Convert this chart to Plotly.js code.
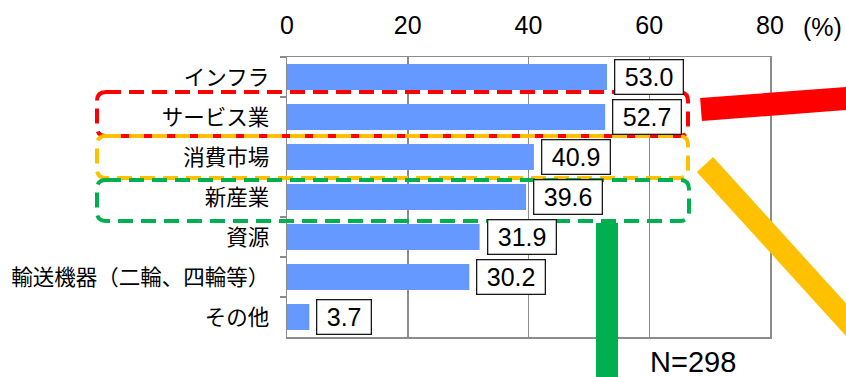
<!DOCTYPE html>
<html>
<head>
<meta charset="utf-8">
<script src="https://cdn.plot.ly/plotly-3.0.1.min.js"></script>
<style>
html,body{margin:0;padding:0;background:#fff;}
#chart{width:846px;height:377px;}
</style>
</head>
<body>
<div id="chart"></div>
<script>
// ---- data ----
const categories = ["インフラ", "サービス業", "消費市場", "新産業", "資源", "輸送機器（二輪、四輪等）", "その他"];
const values = [53.0, 52.7, 40.9, 39.6, 31.9, 30.2, 3.7];
const xTickValues = [0, 20, 40, 60, 80];
const unitLabel = "(%)";
const sampleLabel = "N=298";

// ---- layout helpers (pixel -> paper) ----
const W = 846, H = 377;
const M = {l: 287, r: 76, t: 57, b: 40};
const PW = W - M.l - M.r, PH = H - M.t - M.b;
const px = x => (x - M.l) / PW;
const py = y => (H - M.b - y) / PH;

function roundRect(L, R, T, B, r) {
  const pts = [
    ['M', L + r, T], ['L', R - r, T], ['Q', R, T, R, T + r], ['L', R, B - r],
    ['Q', R, B, R - r, B], ['L', L + r, B], ['Q', L, B, L, B - r], ['L', L, T + r],
    ['Q', L, T, L + r, T]
  ];
  return pts.map(p => {
    let s = p[0];
    for (let i = 1; i < p.length; i += 2) s += ' ' + px(p[i]).toFixed(5) + ',' + py(p[i + 1]).toFixed(5);
    return s;
  }).join(' ') + ' Z';
}

const FONT = "Liberation Sans, Arial, Noto Sans CJK JP, sans-serif";
const GRID = '#8c8c8c';

const trace = {
  type: 'bar',
  orientation: 'h',
  y: categories,
  x: values,
  marker: {color: '#6699FF'},
  hoverinfo: 'skip'
};

const valueAnnotations = values.map((v, i) => ({
  x: v, y: categories[i], xref: 'x', yref: 'y',
  text: '\u00A0' + v.toFixed(1) + '\u00A0',
  showarrow: false, xanchor: 'left', yanchor: 'middle', xshift: 7,
  font: {family: FONT, size: 25, color: '#000'},
  bgcolor: '#fff', bordercolor: '#1a1a1a', borderwidth: 1.3, borderpad: 2.5
}));

const shapes = [
  {type: 'path', xref: 'paper', yref: 'paper', path: roundRect(97, 688, 92, 136, 9),
   line: {color: '#FF0000', width: 4, dash: '15px,8px'}, layer: 'above'},
  {type: 'path', xref: 'paper', yref: 'paper', path: roundRect(97, 688, 136, 178, 9),
   line: {color: '#FFC000', width: 4, dash: '15px,8px'}, layer: 'above'},
  {type: 'path', xref: 'paper', yref: 'paper', path: roundRect(97, 689, 180, 221, 9),
   line: {color: '#00B050', width: 4, dash: '15px,8px'}, layer: 'above'},
  {type: 'line', xref: 'paper', yref: 'paper', x0: px(701), y0: py(109.5), x1: px(900), y1: py(94.4),
   line: {color: '#FF0000', width: 23}, layer: 'above'},
  {type: 'line', xref: 'paper', yref: 'paper', x0: px(705), y0: py(164.5), x1: px(900), y1: py(379),
   line: {color: '#FFC000', width: 22}, layer: 'above'},
  {type: 'line', xref: 'paper', yref: 'paper', x0: px(607), y0: py(223), x1: px(607), y1: py(400),
   line: {color: '#00B050', width: 22}, layer: 'above'}
];

const annotations = valueAnnotations.concat([
  {x: px(822), y: py(27), xref: 'paper', yref: 'paper', text: unitLabel, showarrow: false,
   xanchor: 'center', yanchor: 'middle', font: {family: FONT, size: 25, color: '#000'}},
  {x: px(693), y: py(362), xref: 'paper', yref: 'paper', text: sampleLabel, showarrow: false,
   xanchor: 'center', yanchor: 'middle', font: {family: FONT, size: 29, color: '#000'}}
]);

const layout = {
  width: W, height: H,
  margin: M,
  paper_bgcolor: '#fff', plot_bgcolor: '#fff',
  showlegend: false,
  bargap: 0.35,
  font: {family: FONT, color: '#000'},
  xaxis: {
    side: 'top', range: [0, 80], tickvals: xTickValues, ticktext: xTickValues.map(String),
    showgrid: true, gridcolor: GRID, gridwidth: 1.5,
    showline: true, mirror: true, linecolor: GRID, linewidth: 1.5,
    zeroline: false, ticks: '', ticklabelstandoff: 12,
    tickfont: {family: FONT, size: 25, color: '#000'}, fixedrange: true
  },
  yaxis: {
    type: 'category', autorange: 'reversed', tickson: 'boundaries',
    ticks: 'outside', ticklen: 6, tickwidth: 1.5, tickcolor: GRID,
    showline: true, mirror: true, linecolor: GRID, linewidth: 1.5,
    showgrid: false, zeroline: false, ticklabelstandoff: 12,
    tickfont: {family: "Noto Sans CJK JP, sans-serif", size: 21.5, color: '#000'}, fixedrange: true
  },
  shapes: shapes,
  annotations: annotations
};

Plotly.newPlot('chart', [trace], layout, {displayModeBar: false, staticPlot: true});
</script>
</body>
</html>
